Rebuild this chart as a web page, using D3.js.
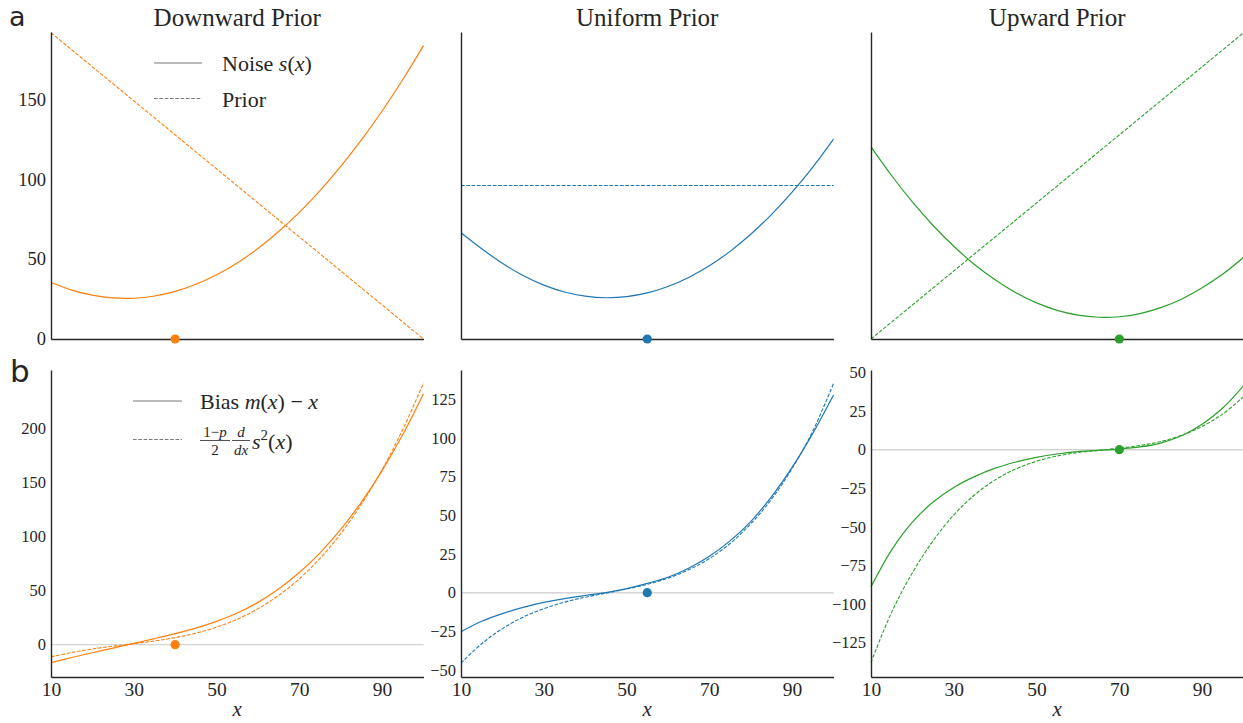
<!DOCTYPE html>
<html>
<head>
<meta charset="utf-8">
<script src="https://cdnjs.cloudflare.com/ajax/libs/d3/7.8.5/d3.min.js"></script>
<style>
body { margin: 0; background: #fff; }
svg text { fill: #262626; }
</style>
</head>
<body>
<div id="chart"></div>
<script>
// sample positions along x
var xGrid = [10, 15, 20, 25, 30, 35, 40, 45, 50, 55, 60, 65, 70, 75, 80, 85, 90, 95, 100];

// row a: noise s(x)
var noiseDown    = [35.3, 30.6, 27.4, 25.7, 25.5, 26.9, 29.8, 34.2, 40.2, 47.6, 56.6, 67.2, 79.2, 92.8, 107.9, 124.5, 142.6, 162.3, 183.5];
var noiseUniform = [66.5, 56.5, 47.3, 39.7, 33.7, 29.4, 26.8, 25.8, 26.5, 28.8, 32.8, 38.5, 45.8, 54.8, 65.5, 77.8, 91.8, 107.5, 125.0];
var noiseUp      = [120.1, 102.1, 85.7, 71.0, 58.0, 46.6, 37.0, 28.9, 22.6, 17.9, 14.9, 13.6, 13.9, 15.9, 19.6, 24.9, 32.0, 40.6, 51.0];

// row a: priors (straight lines, ends only)
var priorX       = [10, 100];
var priorDown    = [191.5, 0];
var priorUniform = [96, 96];
var priorUp      = [0, 191.5];

// row b: bias m(x) - x
var biasDown    = [-16.6, -11.9, -7.5, -3.2, 1.2, 5.6, 10.2, 15.3, 21.5, 29.2, 39.1, 51.5, 66.7, 84.9, 106.5, 131.8, 160.9, 194.2, 232];
var biasUniform = [-25.2, -18.5, -13.5, -9.5, -6.3, -3.8, -1.8, 0, 2.6, 6, 10, 15.8, 23.5, 33.5, 46, 62, 81, 103, 127.8];
var biasUp      = [-89, -65, -47, -34, -24.5, -17.5, -12, -8, -5, -2.8, -1.3, -0.4, 0.4, 1.8, 4.3, 9, 16.5, 27, 41.4];

// row b: (1-p)/2 d/dx s^2(x)
var approxDown    = [-11.3, -7.3, -4.0, -1.4, 0.9, 3.4, 6.5, 10.6, 16.2, 23.5, 33.2, 45.5, 60.9, 79.8, 102.6, 129.9, 161.8, 199.0, 241.8];
var approxUniform = [-45.5, -33.0, -23.2, -15.8, -10.3, -6.1, -2.9, -0.3, 2.4, 5.4, 9.4, 14.8, 22.1, 31.8, 44.5, 60.4, 80.3, 104.5, 135.3];
var approxUp      = [-138, -105.4, -79.9, -59.1, -42.4, -29.4, -19.6, -12.5, -7.5, -4.1, -1.9, -0.4, 1.0, 2.7, 5.3, 9.2, 15.1, 23.2, 34.3];

var anchors = [40, 55, 70];
var titles = ['Downward Prior', 'Uniform Prior', 'Upward Prior'];
var colors = ['#ff7f0e', '#1f77b4', '#2ca02c'];

var xTicks = [10, 30, 50, 70, 90];
var topYTicks = [0, 50, 100, 150];
var bottomYTicks = [
    [0, 50, 100, 150, 200],
    [-50, -25, 0, 25, 50, 75, 100, 125],
    [-125, -100, -75, -50, -25, 0, 25, 50]
];

var noise = [noiseDown, noiseUniform, noiseUp];
var prior = [priorDown, priorUniform, priorUp];
var bias = [biasDown, biasUniform, biasUp];
var approx = [approxDown, approxUniform, approxUp];

// layout
var W = 1243, H = 723;
var colLeft = [51, 461, 871];
var panelW = 372.5;
var rowTop = [32, 370];
var panelH = 307;
var topDomain = [0, 192];
var bottomDomains = [[-29.9, 253.9], [-54.5, 144], [-147.5, 51.7]];

var serif = '"Liberation Serif", "DejaVu Serif", serif';
var dash = '3.7,1.6';

var svg = d3.select('#chart').append('svg')
    .attr('width', W)
    .attr('height', H);

function pairs(xsArr, ysArr){
    return xsArr.map(function(x, i){ return [x, ysArr[i]]; });
}

function styleAxis(g, size){
    g.attr('font-family', serif).attr('font-size', size);
    g.selectAll('.domain').attr('stroke', '#262626').attr('stroke-width', 1.4);
    g.selectAll('.tick line').remove();
    g.selectAll('.tick text').attr('fill', '#262626');
}

colLeft.forEach(function(left, c){

    var x = d3.scaleLinear().domain([10, 100]).range([left, left + panelW]);

    // ---- row a ----
    var yTop = d3.scaleLinear().domain(topDomain).range([rowTop[0] + panelH, rowTop[0]]);
    var gA = svg.append('g');

    var lineA = d3.line()
        .x(function(d){ return x(d[0]); })
        .y(function(d){ return yTop(d[1]); })
        .curve(d3.curveCatmullRom);

    gA.append('path')
        .attr('d', lineA(pairs(priorX, prior[c])))
        .attr('fill', 'none')
        .attr('stroke', colors[c])
        .attr('stroke-width', 1.1)
        .attr('stroke-dasharray', dash);

    gA.append('path')
        .attr('d', lineA(pairs(xGrid, noise[c])))
        .attr('fill', 'none')
        .attr('stroke', colors[c])
        .attr('stroke-width', 1.2);

    var axA = gA.append('g')
        .attr('transform', 'translate(' + left + ',0)')
        .call(d3.axisLeft(yTop).tickValues(c === 0 ? topYTicks : []).tickSize(0).tickSizeOuter(0).tickPadding(5).tickFormat(d3.format('d')));
    styleAxis(axA, 18.5);

    var axAx = gA.append('g')
        .attr('transform', 'translate(0,' + (rowTop[0] + panelH) + ')')
        .call(d3.axisBottom(x).tickValues([]).tickSizeOuter(0));
    styleAxis(axAx, 18);

    gA.append('circle')
        .attr('cx', x(anchors[c]))
        .attr('cy', yTop(0))
        .attr('r', 4.6)
        .attr('fill', colors[c]);

    gA.append('text')
        .attr('x', left + panelW / 2)
        .attr('y', 26)
        .attr('text-anchor', 'middle')
        .attr('font-family', serif)
        .attr('font-size', 25)
        .text(titles[c]);

    // ---- row b ----
    var yB = d3.scaleLinear().domain(bottomDomains[c]).range([rowTop[1] + panelH, rowTop[1]]);
    var gB = svg.append('g');

    gB.append('line')
        .attr('x1', x(10)).attr('x2', x(100))
        .attr('y1', yB(0)).attr('y2', yB(0))
        .attr('stroke', '#d4d4d4')
        .attr('stroke-width', 1.4);

    var lineB = d3.line()
        .x(function(d){ return x(d[0]); })
        .y(function(d){ return yB(d[1]); })
        .curve(d3.curveCatmullRom);

    gB.append('path')
        .attr('d', lineB(pairs(xGrid, approx[c])))
        .attr('fill', 'none')
        .attr('stroke', colors[c])
        .attr('stroke-width', 1.1)
        .attr('stroke-dasharray', dash);

    gB.append('path')
        .attr('d', lineB(pairs(xGrid, bias[c])))
        .attr('fill', 'none')
        .attr('stroke', colors[c])
        .attr('stroke-width', 1.2);

    var axB = gB.append('g')
        .attr('transform', 'translate(' + left + ',0)')
        .call(d3.axisLeft(yB).tickValues(bottomYTicks[c]).tickSize(0).tickSizeOuter(0).tickPadding(5).tickFormat(d3.format('d')));
    styleAxis(axB, 16.5);

    var axBx = gB.append('g')
        .attr('transform', 'translate(0,' + (rowTop[1] + panelH) + ')')
        .call(d3.axisBottom(x).tickValues(xTicks).tickSize(0).tickSizeOuter(0).tickPadding(5).tickFormat(d3.format('d')));
    styleAxis(axBx, 19.5);

    gB.append('circle')
        .attr('cx', x(anchors[c]))
        .attr('cy', yB(0))
        .attr('r', 4.6)
        .attr('fill', colors[c]);

    gB.append('text')
        .attr('x', left + panelW / 2)
        .attr('y', 716)
        .attr('text-anchor', 'middle')
        .attr('font-family', serif)
        .attr('font-style', 'italic')
        .attr('font-size', 21)
        .text('x');
});

// panel letters
svg.append('text').attr('x', 9).attr('y', 26)
    .attr('font-family', '"DejaVu Sans", sans-serif').attr('font-size', 27).text('a');
svg.append('text').attr('x', 10).attr('y', 382)
    .attr('font-family', '"DejaVu Sans", sans-serif').attr('font-size', 31).text('b');

// legend, row a
var legGray = '#7a7a7a';
var legA = svg.append('g').attr('font-family', serif).attr('font-size', 22);
legA.append('line').attr('x1', 154).attr('x2', 202).attr('y1', 63).attr('y2', 63)
    .attr('stroke', legGray).attr('stroke-width', 1.1);
legA.append('line').attr('x1', 154).attr('x2', 202).attr('y1', 98.5).attr('y2', 98.5)
    .attr('stroke', legGray).attr('stroke-width', 1.1).attr('stroke-dasharray', dash);
var t1 = legA.append('text').attr('x', 222).attr('y', 71);
t1.append('tspan').text('Noise ');
t1.append('tspan').attr('font-style', 'italic').text('s');
t1.append('tspan').text('(');
t1.append('tspan').attr('font-style', 'italic').text('x');
t1.append('tspan').text(')');
legA.append('text').attr('x', 222).attr('y', 107).text('Prior');

// legend, row b
var legB = svg.append('g').attr('font-family', serif).attr('font-size', 22);
legB.append('line').attr('x1', 133).attr('x2', 182).attr('y1', 401).attr('y2', 401)
    .attr('stroke', legGray).attr('stroke-width', 1.1);
legB.append('line').attr('x1', 133).attr('x2', 182).attr('y1', 439.5).attr('y2', 439.5)
    .attr('stroke', legGray).attr('stroke-width', 1.1).attr('stroke-dasharray', dash);
var t2 = legB.append('text').attr('x', 200).attr('y', 409);
t2.append('tspan').text('Bias ');
t2.append('tspan').attr('font-style', 'italic').text('m');
t2.append('tspan').text('(');
t2.append('tspan').attr('font-style', 'italic').text('x');
t2.append('tspan').text(') \u2212 ');
t2.append('tspan').attr('font-style', 'italic').text('x');

// fraction (1-p)/2 d/dx s^2(x)
var fx = 200, fy = 439;
var n1 = legB.append('text').attr('x', fx + 15).attr('y', fy - 2).attr('font-size', 15).attr('text-anchor', 'middle');
n1.append('tspan').text('1\u2212');
n1.append('tspan').attr('font-style', 'italic').text('p');
legB.append('line').attr('x1', fx).attr('x2', fx + 30).attr('y1', fy + 1.5).attr('y2', fy + 1.5)
    .attr('stroke', '#262626').attr('stroke-width', 0.8);
legB.append('text').attr('x', fx + 15).attr('y', fy + 16).attr('font-size', 15).attr('text-anchor', 'middle').text('2');
legB.append('text').attr('x', fx + 41).attr('y', fy - 2).attr('font-size', 15).attr('text-anchor', 'middle')
    .attr('font-style', 'italic').text('d');
legB.append('line').attr('x1', fx + 32).attr('x2', fx + 50).attr('y1', fy + 1.5).attr('y2', fy + 1.5)
    .attr('stroke', '#262626').attr('stroke-width', 0.8);
legB.append('text').attr('x', fx + 41).attr('y', fy + 16).attr('font-size', 15).attr('text-anchor', 'middle')
    .attr('font-style', 'italic').text('dx');
var t3 = legB.append('text').attr('x', fx + 52).attr('y', fy + 10);
t3.append('tspan').attr('font-style', 'italic').text('s');
t3.append('tspan').attr('font-size', 15).attr('dy', -9).text('2');
t3.append('tspan').attr('dy', 9).text('(');
t3.append('tspan').attr('font-style', 'italic').text('x');
t3.append('tspan').text(')');
</script>
</body>
</html>
